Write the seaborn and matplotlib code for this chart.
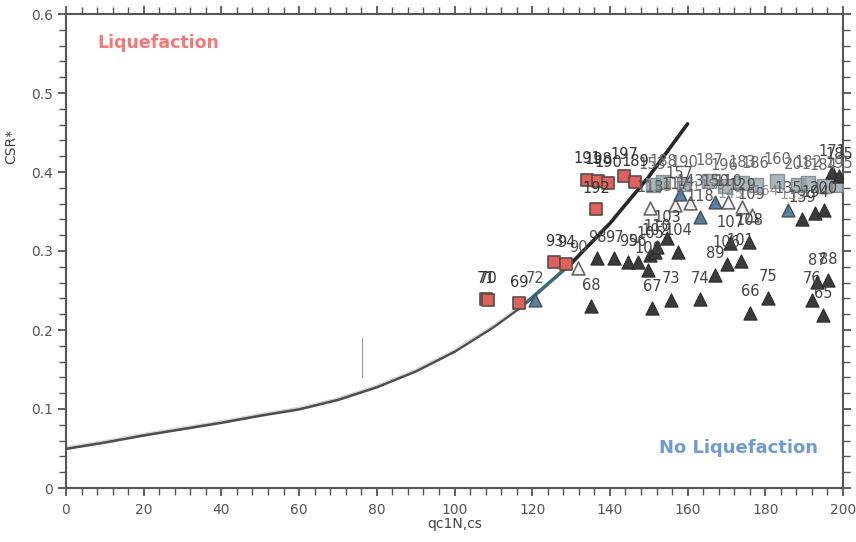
import matplotlib
matplotlib.use("Agg")
import matplotlib.pyplot as plt
import matplotlib.transforms as mtransforms
import seaborn as sns
import pandas as pd
import numpy as np

# Boundary curve (qc1N,cs vs CSR*)
curve_q = [0, 10, 20, 30, 40, 50, 60, 70, 80, 90, 100, 110, 117, 120, 130, 140, 150, 160]
curve_csr = [0.050, 0.058, 0.067, 0.075, 0.083, 0.092, 0.100, 0.112, 0.128, 0.148,
             0.173, 0.204, 0.229, 0.241, 0.284, 0.335, 0.394, 0.461]

# Liquefied sites
liq_id = ["71", "70", "69", "93", "94", "191", "198", "190", "192", "197", "189"]
liq_q = [108.1, 108.6, 116.6, 125.6, 128.7, 134.1, 136.9, 139.5, 136.4, 143.6, 146.5]
liq_csr = [0.239, 0.238, 0.234, 0.286, 0.284, 0.390, 0.389, 0.386, 0.353, 0.395, 0.387]

# Non-liquefied sites
noliq_id = ["68", "98", "97", "95", "96", "100", "105", "102", "110", "103", "104",
            "67", "73", "74", "89", "106", "101", "66", "75", "76", "87", "88", "65",
            "139", "194", "200", "107", "108", "171", "185"]
noliq_q = [135.1, 136.7, 141.1, 144.7, 147.2, 149.8, 150.3, 151.6, 152.1, 154.7, 157.5,
           150.8, 155.7, 163.2, 167.1, 170.1, 173.7, 176.1, 180.7, 192.0, 193.3, 196.1, 194.9,
           189.4, 192.8, 195.1, 171.0, 175.9, 197.2, 199.0]
noliq_csr = [0.230, 0.291, 0.291, 0.286, 0.286, 0.276, 0.295, 0.299, 0.305, 0.316, 0.299,
             0.228, 0.238, 0.239, 0.270, 0.284, 0.287, 0.222, 0.241, 0.238, 0.261, 0.263, 0.219,
             0.341, 0.348, 0.352, 0.310, 0.312, 0.400, 0.395]

# Non-liquefied sites, hollow symbols
open_id = ["90", "113", "117", "143", "110", "129", "109"]
open_q = [131.8, 150.3, 156.8, 160.6, 170.4, 174.0, 176.5]
open_csr = [0.278, 0.354, 0.358, 0.361, 0.362, 0.356, 0.345]

# Non-liquefied sites, blue symbols
blue_id = ["72", "118", "150", "157", "135"]
blue_q = [120.7, 163.2, 167.1, 158.0, 185.8]
blue_csr = [0.238, 0.343, 0.362, 0.372, 0.352]

# Marginal sites (grey symbols)
grey_id = ["153", "188", "190", "187", "196", "183", "186", "160", "201", "182", "184", "195"]
grey_q = [151.0, 153.7, 159.2, 165.5, 169.5, 174.0, 177.5, 183.0, 188.5, 191.0, 195.0, 199.0]
grey_csr = [0.383, 0.387, 0.385, 0.388, 0.382, 0.386, 0.384, 0.389, 0.383, 0.386, 0.382, 0.384]

sns.set_theme(style="white")
plt.rcParams["font.family"] = ["DejaVu Sans"]

fig = plt.figure(figsize=(8.56, 5.42), dpi=100)
ax = fig.add_axes([66 / 856, 1 - 488 / 542, (843 - 66) / 856, (488 - 14) / 542])

curve = pd.DataFrame({"q": curve_q, "csr": curve_csr})
low = curve[curve.q <= 117]
mid = curve[(curve.q >= 117) & (curve.q <= 130)]
high = curve[curve.q >= 130]
sns.lineplot(data=low, x="q", y="csr", ax=ax, color="#4d4d4d", lw=2.4, sort=False)
# light edge along the upper side of the lower branch
shifted = mtransforms.offset_copy(ax.transData, fig=fig, x=0, y=1.6, units="dots")
ax.plot(low.q, low.csr, color="#d8d8d8", lw=1.0, transform=shifted)
sns.lineplot(data=mid, x="q", y="csr", ax=ax, color="#3f6b78", lw=2.6, sort=False)
sns.lineplot(data=high, x="q", y="csr", ax=ax, color="#262626", lw=2.6, sort=False)

# faint vertical mark on the curve
ax.plot([76.2, 76.2], [0.14, 0.19], color="#999999", lw=0.8)

def group(ids, q, csr):
    return pd.DataFrame({"id": ids, "q": q, "csr": csr})

g_grey = group(grey_id, grey_q, grey_csr)
sns.scatterplot(data=g_grey, x="q", y="csr", ax=ax, marker="s", s=90,
                color="#8e9ea4", edgecolor="#6d7a80", alpha=0.75, linewidth=1, zorder=3)
g_open = group(open_id, open_q, open_csr)
sns.scatterplot(data=g_open, x="q", y="csr", ax=ax, marker="^", s=85,
                color="#f4f4f4", edgecolor="#666666", linewidth=1.2, zorder=4)
g_blue = group(blue_id, blue_q, blue_csr)
sns.scatterplot(data=g_blue, x="q", y="csr", ax=ax, marker="^", s=85,
                color="#5f7f98", edgecolor="#3d4f5c", linewidth=1.0, zorder=4)
g_no = group(noliq_id, noliq_q, noliq_csr)
sns.scatterplot(data=g_no, x="q", y="csr", ax=ax, marker="^", s=90,
                color="#3b3b3b", edgecolor="#2a2a2a", linewidth=0.8, zorder=5)
g_liq = group(liq_id, liq_q, liq_csr)
sns.scatterplot(data=g_liq, x="q", y="csr", ax=ax, marker="s", s=80,
                color="#e0625c", edgecolor="#5a4a48", linewidth=1.2, zorder=6)

for df, col in [(g_grey, "#6a6a6a"), (g_open, "#555555"), (g_blue, "#555555"),
                (g_no, "#444444"), (g_liq, "#333333")]:
    for _, r in df.iterrows():
        ax.annotate(r["id"], (r["q"], r["csr"]), xytext=(0, 21), textcoords="offset pixels",
                    ha="center", va="center", fontsize=10.5, color=col, zorder=7)

# cluttered label band
for t, x, y in [("158", 152.5, 0.381), ("161", 160.0, 0.381), ("155", 166.5, 0.384),
                ("139", 187.0, 0.371), ("164", 180.0, 0.376), ("145", 171.0, 0.372)]:
    ax.text(x, y, t, fontsize=10, color="#777777", ha="center", va="center", alpha=0.8, zorder=7)

ax.text(23.7, 0.563, "Liquefaction", color="#f07a78", fontsize=12.5, fontweight="bold",
        ha="center", va="center")
ax.text(173.0, 0.051, "No Liquefaction", color="#6f9bd0", fontsize=13, fontweight="bold",
        ha="center", va="center")

ax.set_xlim(0, 200)
ax.set_ylim(0, 0.6)
ax.set_xticks(np.arange(0, 201, 20))
ax.set_xticks(np.arange(0, 201, 4), minor=True)
ax.set_yticks(np.arange(0, 0.61, 0.1))
ax.set_yticks(np.arange(0, 0.601, 0.02), minor=True)
ax.set_xticklabels([str(v) for v in range(0, 201, 20)])
ax.set_yticklabels(["0", "0.1", "0.2", "0.3", "0.4", "0.5", "0.6"])

for s in ax.spines.values():
    s.set_color("#555555")
    s.set_linewidth(1.5)

ax.tick_params(axis="both", which="both", colors="#555555", labelcolor="#555555", labelsize=10)
ax.tick_params(axis="x", which="major", direction="out", length=6, width=1.3,
               bottom=True, top=True, pad=5)
ax.tick_params(axis="x", which="minor", direction="out", length=5, width=1.0,
               bottom=True, top=True)
ax.tick_params(axis="y", which="major", direction="out", length=6, width=1.3,
               left=True, right=True)
ax.tick_params(axis="y", which="minor", direction="out", length=5, width=1.0,
               left=True, right=True)

ax.set_xlabel("qc1N,cs", fontsize=10, color="#444444", labelpad=0)
ax.set_ylabel("CSR*", fontsize=10, color="#444444")
ax.yaxis.set_label_coords(-0.062, 0.72)

fig.savefig("out.png", dpi=100, facecolor="white")
